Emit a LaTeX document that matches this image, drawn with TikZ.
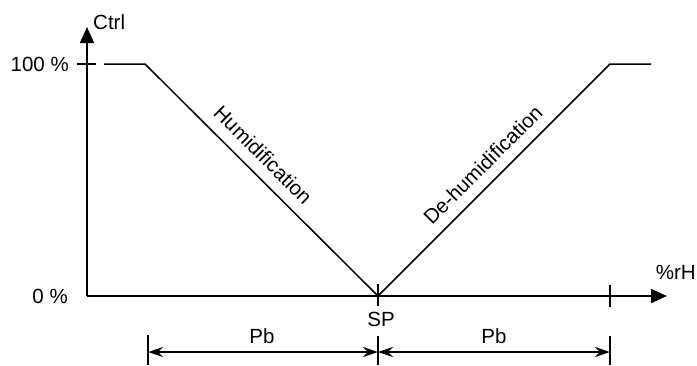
\documentclass[tikz,border=0pt]{standalone}
\usepackage{fontspec}
\setmainfont{Liberation Sans}
\usetikzlibrary{arrows.meta}
\begin{document}
\begin{tikzpicture}[x=1pt,y=-1pt,
  axis/.style={line width=1.8pt,-{Triangle[length=16pt,width=14pt]}},
  curve/.style={line width=1.5pt},
  tick/.style={line width=1.3pt},
  dim/.style={line width=1.3pt,{Stealth[length=15pt,width=10pt,inset=5pt]}-{Stealth[length=15pt,width=10pt,inset=5pt]}},
  lbl/.style={inner sep=0pt,font=\fontsize{20.5}{25}\selectfont}]
\useasboundingbox (0,0) rectangle (697,365);
% key points
\coordinate (O) at (87,296);
\coordinate (Ytop) at (87,27);
\coordinate (Xend) at (667,296);
\coordinate (P1) at (104,64);
\coordinate (P2) at (145,64);
\coordinate (SP) at (378,296);
\coordinate (P3) at (610,64);
\coordinate (P4) at (651,64);
% axes
\draw[axis] (O) -- (Ytop);
\draw[axis] (O) -- (Xend);
% ticks
\coordinate (T100a) at (77,64);
\coordinate (T100b) at (96,64);
\draw[tick] (T100a) -- (T100b);
\coordinate (TSPa) at (378,284);
\coordinate (TSPb) at (378,306);
\draw[tick] (TSPa) -- (TSPb);
\coordinate (TRa) at (610,285);
\coordinate (TRb) at (610,307);
\draw[tick] (TRa) -- (TRb);
% characteristic
\draw[curve] (P1) -- (P2) -- (SP) -- (P3) -- (P4);
% dimension lines
\coordinate (DLa) at (148,335);
\coordinate (DLb) at (148,365);
\coordinate (DMa) at (378,336);
\coordinate (DMb) at (378,365);
\coordinate (DRa) at (610,336);
\coordinate (DRb) at (610,365);
\draw[tick] (DLa) -- (DLb);
\draw[tick] (DMa) -- (DMb);
\draw[tick] (DRa) -- (DRb);
\coordinate (D1) at (148,352);
\coordinate (D2) at (378,352);
\coordinate (D3) at (610,352);
\draw[dim] (D1) -- (D2);
\draw[dim] (D2) -- (D3);
% labels
\node[lbl,anchor=base west] (ctrl) at (93,29) {Ctrl};
\node[lbl,anchor=base east] (l100) at (69,71) {100 \%};
\node[lbl,anchor=base east] (l0) at (68,303) {0 \%};
\node[lbl,anchor=base] (lsp) at (381,326) {SP};
\node[lbl,anchor=base east] (lrh) at (696,279) {\%rH};
\node[lbl,anchor=base] (pb1) at (262,343) {Pb};
\node[lbl,anchor=base] (pb2) at (494,343) {Pb};
\node[lbl,anchor=base,rotate=-45] (hum) at (258,160) {Humidification};
\node[lbl,anchor=base,rotate=45] (dehum) at (488,170) {De-humidification};
\end{tikzpicture}
\end{document}
